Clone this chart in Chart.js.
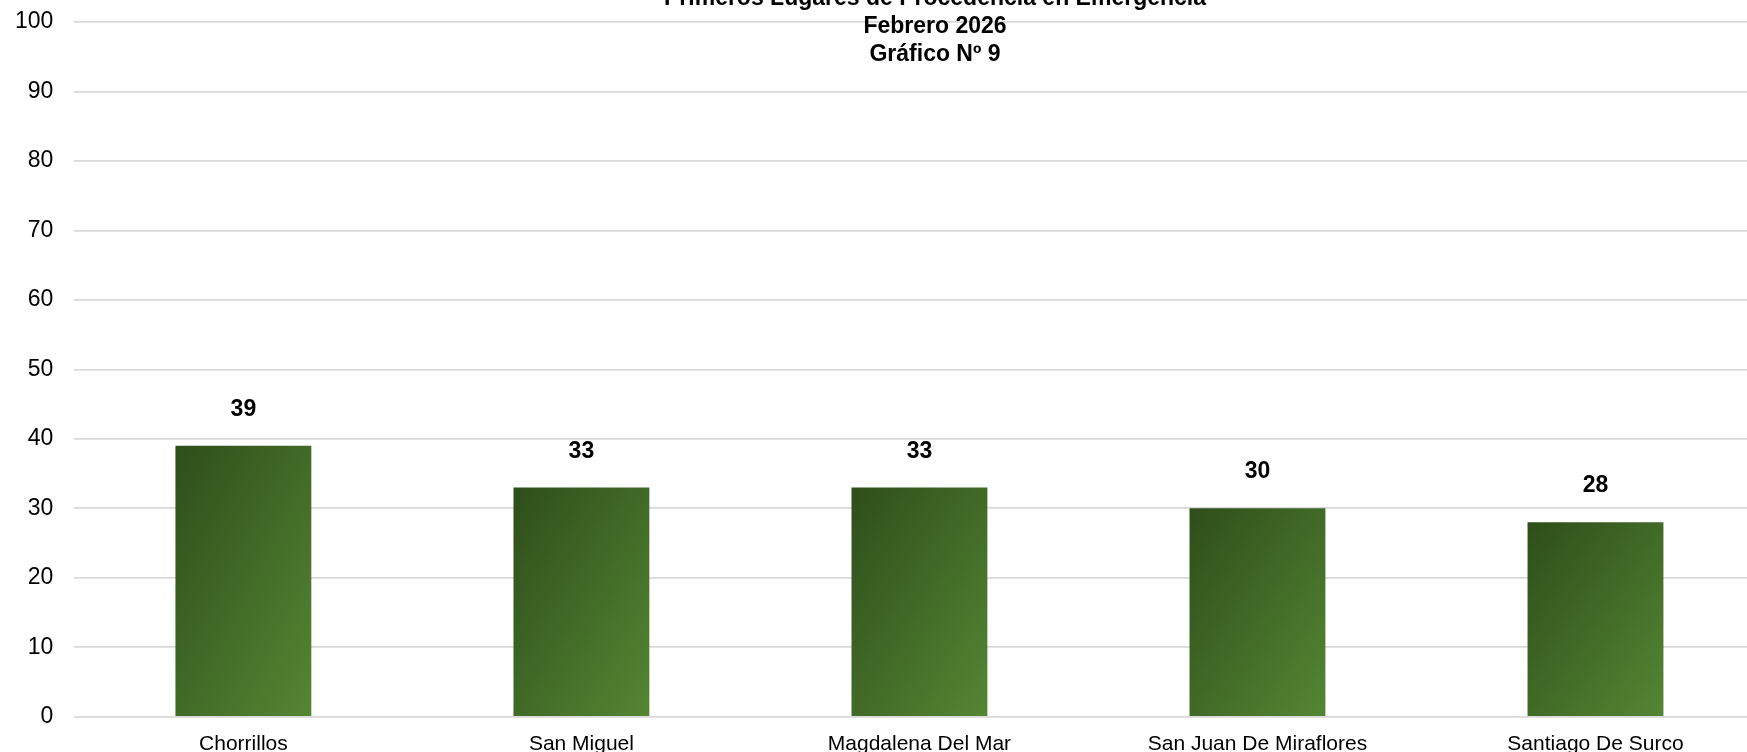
<!DOCTYPE html>
<html>
<head>
<meta charset="utf-8">
<script src="https://cdn.jsdelivr.net/npm/chart.js@4/dist/chart.umd.min.js"></script>
<style>
  html, body { margin: 0; padding: 0; background: #fff; overflow: hidden; }
  #wrap { position: absolute; left: 0; top: 0; }
</style>
</head>
<body>
<div id="wrap"><canvas id="chart" width="1870" height="770"></canvas></div>
<script>
// DATA
const titleLines = ['Primeros Lugares de Procedencia en Emergencia', 'Febrero 2026', 'Gráfico Nº 9'];
const districts = ['Chorrillos', 'San Miguel', 'Magdalena Del Mar', 'San Juan De Miraflores', 'Santiago De Surco'];
const patients = [39, 33, 33, 30, 28];
const yTicks = [0, 10, 20, 30, 40, 50, 60, 70, 80, 90, 100];

const FONT = "'Liberation Sans', Arial, sans-serif";
const BAR_PCT = 0.402;

// diagonal green gradient per bar, dark top-left -> light bottom-right,
// with equal colour along the other diagonal (like the office "linear diagonal")
function barFill(ctx) {
    const chart = ctx.chart;
    if (!chart.chartArea) return '#40692a';
    const xs = chart.scales.x, ys = chart.scales.y;
    const cx = xs.getPixelForValue(ctx.dataIndex);
    const w = (xs.width / districts.length) * BAR_PCT;
    const top = ys.getPixelForValue(ctx.raw);
    const h = ys.getPixelForValue(0) - top;
    const x0 = cx - w / 2;
    const k = 2 * w * h / (w * w + h * h);
    const g = chart.ctx.createLinearGradient(x0, top, x0 + k * h, top + k * w);
    g.addColorStop(0, '#2e4e1a');
    g.addColorStop(1, '#548633');
    return g;
}

// title (centred over the whole picture) + value labels
const decorations = {
    id: 'decorations',
    afterDraw(chart) {
        const c = chart.ctx;
        const top = chart.chartArea.top;
        c.save();
        c.fillStyle = '#000';
        c.textAlign = 'center';
        c.textBaseline = 'alphabetic';
        c.font = 'bold 23px ' + FONT;
        const offs = [-16.7, 11.3, 39];
        titleLines.forEach((t, i) => c.fillText(t, chart.width / 2, top + offs[i]));

        const meta = chart.getDatasetMeta(0);
        meta.data.forEach((bar, i) => {
            c.fillText(String(patients[i]), bar.x, bar.y - 30);
        });
        c.restore();
    }
};

new Chart(document.getElementById('chart'), {
    type: 'bar',
    data: {
        labels: districts,
        datasets: [{
            data: patients,
            backgroundColor: barFill,
            borderWidth: 0,
            categoryPercentage: 1,
            barPercentage: BAR_PCT
        }]
    },
    options: {
        responsive: false,
        animation: false,
        layout: { padding: { left: 15, right: 105.5, top: 22, bottom: 6 } },
        plugins: { legend: { display: false }, tooltip: { enabled: false }, title: { display: false } },
        scales: {
            x: {
                grid: { display: false },
                border: { display: false },
                ticks: { color: '#000', font: { family: FONT, size: 21 }, padding: 7, maxRotation: 0, autoSkip: false }
            },
            y: {
                min: 0,
                max: 100,
                afterBuildTicks: axis => { axis.ticks = yTicks.map(v => ({ value: v })); },
                grid: { color: '#d9d9d9', lineWidth: 1.8, drawTicks: true, tickLength: 21, tickColor: 'rgba(0,0,0,0)' },
                border: { display: false },
                ticks: { color: '#000', font: { family: FONT, size: 23 }, padding: 0 }
            }
        }
    },
    plugins: [decorations]
});
</script>
</body>
</html>
